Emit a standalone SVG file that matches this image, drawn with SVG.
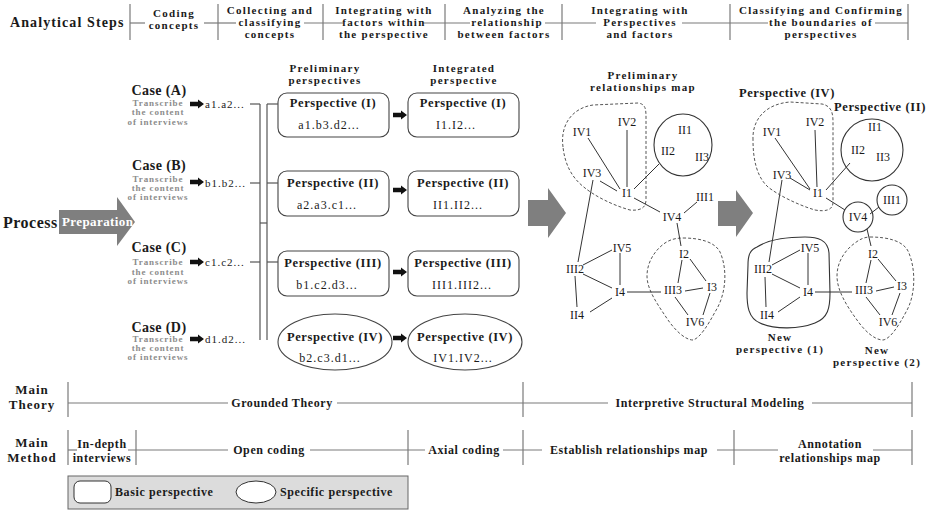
<svg xmlns="http://www.w3.org/2000/svg" width="930" height="511" viewBox="0 0 930 511">
<style>
.b{font-family:"Liberation Serif",serif;font-weight:bold;fill:#1a1a1a}
.r{font-family:"Liberation Serif",serif;fill:#1a1a1a}
.m{text-anchor:middle}
.hd{font-size:11px;letter-spacing:1.3px}
.cs{font-size:14px;letter-spacing:0.4px}
.tr{font-size:9px;letter-spacing:0.9px;fill:#8c8c8c}
.cd{font-size:11px;letter-spacing:1px}
.pt{font-size:12.5px;letter-spacing:0.6px}
.pc{font-size:12px;letter-spacing:1px}
.nd{font-size:12px}
.ax{stroke:#7a7a7a;stroke-width:1.2;fill:none}
.ed{stroke:#333;stroke-width:1;fill:none}
.bx{stroke:#444;stroke-width:1.1;fill:#fff}
.ds{stroke:#555;stroke-width:1;stroke-dasharray:3 2;fill:none}
.sl{stroke:#333;stroke-width:1.1;fill:none}
.big{fill:#7f7f7f}
</style>
<defs>
<path id="ar" d="M0,-2.2 H8 V-4.5 L14,0 L8,4.5 V2.2 H0 Z" fill="#111"/>
</defs>

<!-- Header -->
<g id="header">
<text class="b" x="10" y="27" font-size="14" letter-spacing="1.1">Analytical Steps</text>
<g class="ax">
<line x1="130" y1="4" x2="130" y2="40"/><line x1="218" y1="4" x2="218" y2="40"/>
<line x1="323" y1="4" x2="323" y2="40"/><line x1="445" y1="4" x2="445" y2="40"/>
<line x1="562" y1="4" x2="562" y2="40"/><line x1="730" y1="4" x2="730" y2="40"/>
<line x1="908" y1="4" x2="908" y2="40"/>
<line x1="130" y1="23" x2="145" y2="23"/><line x1="204" y1="23" x2="236" y2="23"/>
<line x1="304" y1="23" x2="343" y2="23"/><line x1="422" y1="23" x2="470" y2="23"/>
<line x1="545" y1="23" x2="596" y2="23"/><line x1="682" y1="23" x2="768" y2="23"/>
<line x1="875" y1="23" x2="908" y2="23"/>
</g>
<text class="b m hd" x="174" y="17">Coding</text>
<text class="b m hd" x="174" y="29">concepts</text>
<text class="b m hd" x="270" y="14">Collecting and</text>
<text class="b m hd" x="270" y="26">classifying</text>
<text class="b m hd" x="270" y="38">concepts</text>
<text class="b m hd" x="384" y="14">Integrating with</text>
<text class="b m hd" x="384" y="26">factors within</text>
<text class="b m hd" x="384" y="38">the perspective</text>
<text class="b m hd" x="504" y="14">Analyzing the</text>
<text class="b m hd" x="507" y="26">relationship</text>
<text class="b m hd" x="504" y="38">between factors</text>
<text class="b m hd" x="640" y="14">Integrating with</text>
<text class="b m hd" x="640" y="26">Perspectives</text>
<text class="b m hd" x="640" y="38">and factors</text>
<text class="b m hd" x="821" y="14">Classifying and Confirming</text>
<text class="b m hd" x="821" y="26">the boundaries of</text>
<text class="b m hd" x="821" y="38">perspectives</text>
</g>

<!-- Process -->
<g id="process">
<text class="b" x="3" y="228" font-size="16" letter-spacing="0.5">Process</text>
<path class="big" d="M59,210 H117 V197 L135,222 L117,246 V234 H59 Z"/>
<text class="b" x="62" y="226" font-size="13" letter-spacing="0.4" style="fill:#fff">Preparation</text>
</g>

<!-- Cases -->
<g id="caseA">
<text class="b m cs" x="159" y="95">Case (A)</text>
<text class="b m tr" x="158" y="106">Transcribe</text>
<text class="b m tr" x="158" y="115">the content</text>
<text class="b m tr" x="158" y="125">of interviews</text>
<use href="#ar" x="190" y="104"/>
<text class="r cd" x="205" y="108">a1.a2...</text>
</g>
<g id="caseB">
<text class="b m cs" x="159" y="170">Case (B)</text>
<text class="b m tr" x="158" y="182">Transcribe</text>
<text class="b m tr" x="158" y="191">the content</text>
<text class="b m tr" x="158" y="200">of interviews</text>
<use href="#ar" x="190" y="182"/>
<text class="r cd" x="205" y="187">b1.b2...</text>
</g>
<g id="caseC">
<text class="b m cs" x="159" y="252">Case (C)</text>
<text class="b m tr" x="158" y="265">Transcribe</text>
<text class="b m tr" x="158" y="275">the content</text>
<text class="b m tr" x="158" y="284">of interviews</text>
<use href="#ar" x="190" y="262"/>
<text class="r cd" x="205" y="266">c1.c2...</text>
</g>
<g id="caseD">
<text class="b m cs" x="159" y="332">Case (D)</text>
<text class="b m tr" x="158" y="342">Transcribe</text>
<text class="b m tr" x="158" y="351">the content</text>
<text class="b m tr" x="158" y="360">of interviews</text>
<use href="#ar" x="190" y="339"/>
<text class="r cd" x="205" y="343">d1.d2...</text>
</g>

<!-- Column headings -->
<g id="col-headings">
<text class="b m hd" x="325" y="72">Preliminary</text>
<text class="b m hd" x="325" y="84">perspectives</text>
<text class="b m hd" x="464" y="72">Integrated</text>
<text class="b m hd" x="464" y="84">perspective</text>
</g>

<!-- Perspective boxes -->
<g id="pre-I"><rect class="bx" x="278" y="93" width="111" height="44" rx="9"/>
<text class="b m pt" x="333" y="107">Perspective (I)</text><text class="r m pc" x="329" y="129">a1.b3.d2...</text></g>
<g id="int-I"><rect class="bx" x="408" y="93" width="111" height="44" rx="9"/>
<text class="b m pt" x="463" y="107">Perspective (I)</text><text class="r m pc" x="456" y="129">I1.I2...</text></g>
<g id="pre-II"><rect class="bx" x="278" y="171" width="111" height="45" rx="9"/>
<text class="b m pt" x="333" y="187">Perspective (II)</text><text class="r m pc" x="327" y="209">a2.a3.c1...</text></g>
<g id="int-II"><rect class="bx" x="408" y="171" width="111" height="45" rx="9"/>
<text class="b m pt" x="463" y="187">Perspective (II)</text><text class="r m pc" x="458" y="209">II1.II2...</text></g>
<g id="pre-III"><rect class="bx" x="278" y="251" width="111" height="45" rx="9"/>
<text class="b m pt" x="333" y="267">Perspective (III)</text><text class="r m pc" x="327" y="289">b1.c2.d3...</text></g>
<g id="int-III"><rect class="bx" x="408" y="251" width="111" height="45" rx="9"/>
<text class="b m pt" x="463" y="267">Perspective (III)</text><text class="r m pc" x="462" y="289">III1.III2...</text></g>
<g id="pre-IV"><ellipse class="bx" cx="335" cy="342" rx="57" ry="28"/>
<text class="b m pt" x="335" y="341">Perspective (IV)</text><text class="r m pc" x="330" y="362">b2.c3.d1...</text></g>
<g id="int-IV"><ellipse class="bx" cx="465" cy="342" rx="57" ry="28"/>
<text class="b m pt" x="465" y="341">Perspective (IV)</text><text class="r m pc" x="463" y="362">IV1.IV2...</text></g>

<!-- Big arrows -->
<g id="big-arrows">
<path class="big" d="M528,200 H548 V188 L566,213 L548,238 V226 H528 Z"/>
<path class="big" d="M718,201 H736 V190 L753,213 L736,237 V226 H718 Z"/>
</g>

<!-- Map 1 -->
<g id="map1-title">
<text class="b m hd" x="643" y="79">Preliminary</text>
<text class="b m hd" x="643" y="91">relationships map</text>
</g>
<g id="map1-groups">
<path class="ds" d="M563,147 C560,125 572,108 593,105 L638,103 C646,104 646,110 646,118 L646,200 C646,208 640,211 630,210 C612,205 595,196 585,188 C572,178 565,165 563,147 Z"/>
<ellipse class="sl" cx="683" cy="145" rx="29" ry="31"/>
<path class="ds" d="M683,238 C700,238 715,242 720,252 C728,270 726,295 715,312 C708,325 700,338 693,340 C685,340 675,330 668,320 C658,305 647,290 647,276 C647,262 655,250 665,243 C671,239 677,238 683,238 Z"/>
</g>
<g id="connectors">
<g class="ax" style="stroke:#555">
<line x1="250" y1="104" x2="260" y2="104"/><line x1="250" y1="183" x2="260" y2="183"/><line x1="250" y1="262" x2="260" y2="262"/>
<line x1="260" y1="104" x2="260" y2="340"/><line x1="267" y1="104" x2="267" y2="340"/>
<line x1="260" y1="223" x2="267" y2="223"/>
<line x1="267" y1="104" x2="278" y2="104"/><line x1="267" y1="183" x2="278" y2="183"/><line x1="267" y1="262" x2="278" y2="262"/>
</g>
<use href="#ar" x="393" y="115"/><use href="#ar" x="393" y="190"/><use href="#ar" x="393" y="272"/><use href="#ar" x="393" y="338"/>
<g class="ed">
<line x1="588" y1="138" x2="620" y2="189"/>
<line x1="627" y1="130" x2="627" y2="187"/>
<line x1="600" y1="181" x2="617" y2="191"/>
<line x1="659" y1="164" x2="634" y2="189"/>
<line x1="634" y1="198" x2="660" y2="212"/>
<line x1="697" y1="202" x2="684" y2="213"/>
<line x1="677" y1="223" x2="681" y2="246"/>
<line x1="593" y1="180" x2="578" y2="262"/>
<line x1="583" y1="265" x2="612" y2="250"/>
<line x1="583" y1="274" x2="612" y2="288"/>
<line x1="620" y1="253" x2="620" y2="285"/>
<line x1="575" y1="276" x2="577" y2="307"/>
<line x1="590" y1="312" x2="612" y2="298"/>
<line x1="627" y1="292" x2="661" y2="292"/>
<line x1="682" y1="260" x2="678" y2="283"/>
<line x1="690" y1="259" x2="706" y2="281"/>
<line x1="685" y1="291" x2="703" y2="288"/>
<line x1="675" y1="297" x2="688" y2="315"/>
<line x1="710" y1="293" x2="703" y2="315"/>

<line x1="775" y1="138" x2="810" y2="189"/>
<line x1="815" y1="130" x2="817" y2="187"/>
<line x1="790" y1="178" x2="810" y2="190"/>
<line x1="850" y1="163" x2="826" y2="190"/>
<line x1="826" y1="198" x2="845" y2="210"/>
<line x1="870" y1="214" x2="879" y2="207"/>
<line x1="867" y1="229" x2="871" y2="246"/>
<line x1="782" y1="180" x2="769" y2="262"/>
<line x1="772" y1="265" x2="800" y2="250"/>
<line x1="772" y1="274" x2="800" y2="288"/>
<line x1="808" y1="253" x2="808" y2="285"/>
<line x1="765" y1="277" x2="766" y2="307"/>
<line x1="778" y1="312" x2="800" y2="297"/>
<line x1="815" y1="292" x2="852" y2="292"/>
<line x1="871" y1="260" x2="866" y2="283"/>
<line x1="878" y1="259" x2="896" y2="281"/>
<line x1="876" y1="291" x2="894" y2="287"/>
<line x1="866" y1="297" x2="880" y2="315"/>
<line x1="900" y1="293" x2="892" y2="315"/>
</g>
</g>
<g id="map1-nodes">
<text class="r m nd" x="582" y="136">IV1</text>
<text class="r m nd" x="627" y="126">IV2</text>
<text class="r m nd" x="685" y="134">II1</text>
<text class="r m nd" x="668" y="155">II2</text>
<text class="r m nd" x="702" y="161">II3</text>
<text class="r m nd" x="592" y="177">IV3</text>
<text class="r m nd" x="627" y="197">I1</text>
<text class="r m nd" x="705" y="201">III1</text>
<text class="r m nd" x="672" y="221">IV4</text>
<text class="r m nd" x="622" y="252">IV5</text>
<text class="r m nd" x="684" y="258">I2</text>
<text class="r m nd" x="575" y="273">III2</text>
<text class="r m nd" x="620" y="296">I4</text>
<text class="r m nd" x="673" y="294">III3</text>
<text class="r m nd" x="712" y="291">I3</text>
<text class="r m nd" x="577" y="319">II4</text>
<text class="r m nd" x="695" y="326">IV6</text>
</g>

<!-- Map 2 -->
<g id="map2-groups">
<path class="ds" d="M753,140 C752,120 765,104 790,102 L822,104 C832,106 833,114 833,122 L833,202 C833,210 826,212 815,210 C798,205 778,195 768,187 C757,177 753,160 753,140 Z"/>
<circle class="sl" cx="872" cy="150" r="31"/>
<circle class="sl" cx="892" cy="200" r="15"/>
<circle class="sl" cx="858" cy="217" r="15"/>
<path class="sl" d="M757,247 C768,240 785,237 805,237 C818,237 828,240 829,253 L830,293 C830,308 828,318 815,323 C800,329 775,330 760,323 C748,318 747,305 747,293 L748,265 C748,255 750,250 757,247 Z"/>
<path class="ds" d="M870,237 C888,237 903,241 908,251 C916,268 916,295 906,312 C898,327 890,339 883,340 C874,340 864,330 857,320 C846,305 837,290 837,276 C837,262 845,250 855,243 C860,239 865,237 870,237 Z"/>
<text class="b m pt" x="787" y="97">Perspective (IV)</text>
<text class="b m pt" x="880" y="111">Perspective (II)</text>
<text class="b m hd" x="780" y="341">New</text>
<text class="b m hd" x="780" y="353">perspective (1)</text>
<text class="b m hd" x="877" y="354">New</text>
<text class="b m hd" x="877" y="366">perspective (2)</text>
</g>
<g id="map2-nodes">
<text class="r m nd" x="772" y="136">IV1</text>
<text class="r m nd" x="815" y="126">IV2</text>
<text class="r m nd" x="875" y="131">II1</text>
<text class="r m nd" x="858" y="154">II2</text>
<text class="r m nd" x="883" y="161">II3</text>
<text class="r m nd" x="782" y="179">IV3</text>
<text class="r m nd" x="818" y="197">I1</text>
<text class="r m nd" x="892" y="204">III1</text>
<text class="r m nd" x="858" y="221">IV4</text>
<text class="r m nd" x="810" y="252">IV5</text>
<text class="r m nd" x="873" y="258">I2</text>
<text class="r m nd" x="763" y="273">III2</text>
<text class="r m nd" x="808" y="296">I4</text>
<text class="r m nd" x="864" y="294">III3</text>
<text class="r m nd" x="902" y="290">I3</text>
<text class="r m nd" x="767" y="319">II4</text>
<text class="r m nd" x="888" y="326">IV6</text>
</g>

<!-- Main Theory -->
<g id="main-theory">
<text class="b m" x="32" y="394" font-size="13" letter-spacing="1">Main</text>
<text class="b m" x="32" y="409" font-size="13" letter-spacing="1">Theory</text>
<g class="ax">
<line x1="68" y1="382" x2="68" y2="417"/><line x1="523" y1="382" x2="523" y2="417"/><line x1="912" y1="382" x2="912" y2="417"/>
<line x1="68" y1="403" x2="228" y2="403"/><line x1="337" y1="403" x2="608" y2="403"/><line x1="812" y1="403" x2="912" y2="403"/>
</g>
<text class="b m" x="282" y="407" font-size="12" letter-spacing="0.6">Grounded Theory</text>
<text class="b m" x="710" y="407" font-size="12" letter-spacing="0.6">Interpretive Structural Modeling</text>
</g>

<!-- Main Method -->
<g id="main-method">
<text class="b m" x="32" y="447" font-size="13" letter-spacing="1">Main</text>
<text class="b m" x="32" y="462" font-size="13" letter-spacing="1">Method</text>
<g class="ax">
<line x1="68" y1="430" x2="68" y2="465"/><line x1="136" y1="430" x2="136" y2="465"/><line x1="408" y1="430" x2="408" y2="465"/>
<line x1="523" y1="430" x2="523" y2="465"/><line x1="734" y1="430" x2="734" y2="465"/><line x1="912" y1="430" x2="912" y2="465"/>
<line x1="68" y1="450" x2="77" y2="450"/><line x1="128" y1="450" x2="228" y2="450"/>
<line x1="310" y1="450" x2="425" y2="450"/><line x1="503" y1="450" x2="542" y2="450"/>
<line x1="717" y1="450" x2="778" y2="450"/><line x1="873" y1="450" x2="912" y2="450"/>
</g>
<text class="b m" x="102" y="448" font-size="12" letter-spacing="0.6">In-depth</text>
<text class="b m" x="102" y="462" font-size="12" letter-spacing="0.6">interviews</text>
<text class="b m" x="269" y="454" font-size="12" letter-spacing="0.6">Open coding</text>
<text class="b m" x="464" y="454" font-size="12" letter-spacing="0.6">Axial coding</text>
<text class="b m" x="629" y="454" font-size="12" letter-spacing="0.6">Establish relationships map</text>
<text class="b m" x="830" y="448" font-size="12" letter-spacing="0.6">Annotation</text>
<text class="b m" x="830" y="462" font-size="12" letter-spacing="0.6">relationships map</text>
</g>

<!-- Legend -->
<g id="legend">
<rect x="68" y="476" width="340" height="33" fill="#dcdcdc" stroke="#666" stroke-width="1"/>
<rect x="74" y="481" width="37" height="22" rx="6" fill="#fff" stroke="#333" stroke-width="1"/>
<text class="b" x="115" y="496" font-size="12" letter-spacing="0.6">Basic perspective</text>
<ellipse cx="256" cy="492" rx="20" ry="11" fill="#fff" stroke="#333" stroke-width="1"/>
<text class="b" x="280" y="496" font-size="12" letter-spacing="0.6">Specific perspective</text>
</g>
</svg>
